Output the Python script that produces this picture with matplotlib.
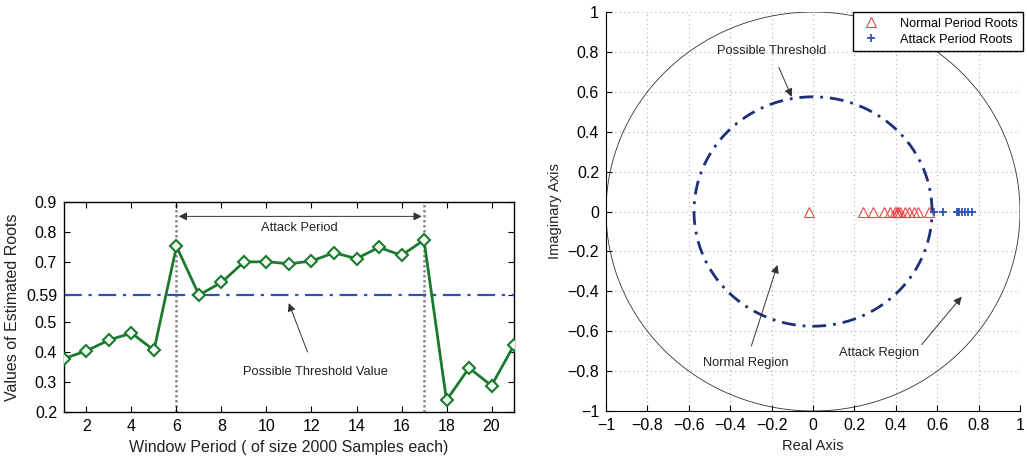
import numpy as np
import matplotlib
matplotlib.use("Agg")
import matplotlib.pyplot as plt

plt.rcParams['font.family'] = ['Liberation Sans', 'DejaVu Sans']

# ---- data ----
window = list(range(1, 22))
roots_est = [0.378, 0.404, 0.440, 0.463, 0.406, 0.752, 0.590, 0.632, 0.700, 0.701,
             0.694, 0.703, 0.731, 0.711, 0.749, 0.722, 0.773, 0.239, 0.347, 0.288, 0.423]
threshold = 0.59
attack_start, attack_end = 6, 17
left_xticks = [2, 4, 6, 8, 10, 12, 14, 16, 18, 20]
left_yticks = [0.2, 0.3, 0.4, 0.5, 0.59, 0.7, 0.8, 0.9]
left_yticklabels = ['0.2', '0.3', '0.4', '0.5', '0.59', '0.7', '0.8', '0.9']

normal_roots = [-0.02, 0.24, 0.29, 0.345, 0.37, 0.395, 0.405, 0.41, 0.42, 0.445,
                0.465, 0.49, 0.505, 0.56]
attack_roots = [0.585, 0.63, 0.695, 0.70, 0.707, 0.718, 0.734, 0.75, 0.77]
threshold_radius = 0.575
right_ticks = [-1, -0.8, -0.6, -0.4, -0.2, 0, 0.2, 0.4, 0.6, 0.8, 1]
right_ticklabels = ['\u22121', '\u22120.8', '\u22120.6', '\u22120.4', '\u22120.2', '0',
                    '0.2', '0.4', '0.6', '0.8', '1']

fig = plt.figure(figsize=(10.27, 4.58), dpi=100)

# ---- left plot ----
ax1 = fig.add_axes([0.0623, 0.1004, 0.4382, 0.4586])
ax1.plot(window, roots_est, color='#1b7a2e', lw=2, marker='D', ms=6.3,
         mfc='#f2f8f2', mec='#1b7a2e', mew=1.5, zorder=3)
ax1.axhline(threshold, color='#2f52b8', lw=1.6, ls=(0, (8, 3, 1.5, 3)), zorder=2)
for xv in (attack_start, attack_end):
    ax1.axvline(xv, color='#8a8a8a', lw=1.8, ls=(0, (1.0, 1.0)), zorder=1)
ax1.annotate('', xy=(attack_start + 0.1, 0.852), xytext=(attack_end - 0.1, 0.852),
             arrowprops=dict(arrowstyle='<|-|>', color='#333333', lw=0.7,
                             mutation_scale=12, shrinkA=0, shrinkB=0,
                             fc='#333333'))
ax1.text(11.45, 0.813, 'Attack Period', ha='center', va='center', fontsize=9.3,
         color='#222222')
ax1.annotate('Possible Threshold Value', xy=(10.99, 0.563), xytext=(12.17, 0.332),
             ha='center', va='center', fontsize=9.3, color='#222222',
             arrowprops=dict(arrowstyle='-|>', color='#333333', lw=0.7,
                             mutation_scale=12, shrinkA=9, shrinkB=0))
ax1.set_xlim(1, 21)
ax1.set_ylim(0.2, 0.9)
ax1.set_xticks(left_xticks)
ax1.set_yticks(left_yticks)
ax1.set_yticklabels(left_yticklabels)
ax1.tick_params(direction='in', top=True, right=True, labelsize=11.5, length=4, pad=5)
ax1.set_xlabel('Window Period ( of size 2000 Samples each)', fontsize=11.5, color='#222222')
ax1.set_ylabel('Values of Estimated Roots', fontsize=11.5, color='#222222')
for s in ax1.spines.values():
    s.set_linewidth(1.0)

# ---- right plot ----
ax2 = fig.add_axes([0.5901, 0.1026, 0.4031, 0.8712])
ax2.grid(True, ls=(0, (1, 3)), color='#b0b0b0', lw=0.8)
ax2.set_axisbelow(True)
t = np.linspace(0, 2 * np.pi, 400)
ax2.plot(np.cos(t), np.sin(t), color='#333333', lw=0.6)
ax2.plot(threshold_radius * np.cos(t), threshold_radius * np.sin(t), color='#1c2f78',
         lw=2, ls=(0, (5, 2.5, 1, 2.5)))
ax2.plot(normal_roots, [0] * len(normal_roots), ls='none', marker='^', ms=6.5,
         mfc='none', mec='#e8474a', mew=0.8, label='Normal Period Roots')
ax2.plot(attack_roots, [0] * len(attack_roots), ls='none', marker='+', ms=5.5,
         color='#2a55b5', mew=1.3, label='Attack Period Roots')
ax2.annotate('Possible Threshold', xy=(-0.103, 0.575), xytext=(-0.20, 0.805),
             ha='center', va='center', fontsize=9.3, color='#222222',
             arrowprops=dict(arrowstyle='-|>', color='#333333', lw=0.7,
                             mutation_scale=12, shrinkA=6, shrinkB=0))
ax2.annotate('Normal Region', xy=(-0.172, -0.268), xytext=(-0.324, -0.758),
             ha='center', va='center', fontsize=9.3, color='#222222',
             arrowprops=dict(arrowstyle='-|>', color='#333333', lw=0.7,
                             mutation_scale=12, shrinkA=6, shrinkB=0))
ax2.annotate('Attack Region', xy=(0.718, -0.427), xytext=(0.32, -0.711),
             ha='center', va='center', fontsize=9.3, color='#222222',
             arrowprops=dict(arrowstyle='-|>', color='#333333', lw=0.7,
                             mutation_scale=12, shrinkA=0, shrinkB=0,
                             relpos=(1.0, 1.0)))
ax2.set_xlim(-1, 1)
ax2.set_ylim(-1, 1)
ax2.set_xticks(right_ticks)
ax2.set_xticklabels(right_ticklabels)
ax2.set_yticks(right_ticks)
ax2.set_yticklabels(right_ticklabels)
ax2.tick_params(direction='in', labelsize=11.5, length=4, pad=5)
ax2.spines['top'].set_visible(False)
ax2.spines['right'].set_visible(False)
ax2.set_xlabel('Real Axis', fontsize=10.5, color='#222222')
ax2.set_ylabel('Imaginary Axis', fontsize=10.5, color='#222222')
leg = ax2.legend(loc='upper right', bbox_to_anchor=(1.008, 1.0), fontsize=9.2,
                 frameon=True, fancybox=False, edgecolor='black', framealpha=1,
                 borderpad=0.45, handletextpad=1.3, labelspacing=0.3,
                 borderaxespad=0.0, handlelength=1.9)
leg.get_frame().set_linewidth(1.0)

fig.savefig('out.png', dpi=100)
